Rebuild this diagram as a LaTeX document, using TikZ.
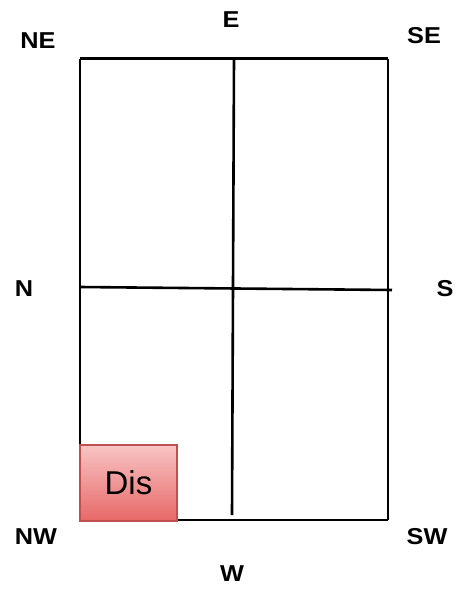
\documentclass[tikz,border=0pt]{standalone}
\usepackage{fontspec}
\setmainfont{Liberation Sans}
\usetikzlibrary{shadings}
\definecolor{distop}{RGB}{248,196,196}
\definecolor{disbot}{RGB}{232,104,104}
\definecolor{disborder}{RGB}{190,80,80}
\tikzset{
  gridline/.style={line width=2.6pt, black},
  dirlabel/.style={font=\fontsize{23}{27}\selectfont\bfseries, inner sep=0pt, xscale=1.1},
  disbox/.style={draw=disborder, line width=2pt, top color=distop, bottom color=disbot,
    minimum width=97pt, minimum height=76pt, inner sep=0pt, font=\fontsize{33}{40}\selectfont}
}
\begin{document}
\begin{tikzpicture}[x=1pt,y=-1pt]
\useasboundingbox (0,0) rectangle (473,592);
\coordinate (tl) at (80,58.5);
\coordinate (tr) at (388,58.5);
\coordinate (bl) at (80,520);
\coordinate (br) at (388,520);
\coordinate (tm) at (234,58.5);
\coordinate (bm) at (232,515);
\coordinate (ml) at (80,287);
\coordinate (mr) at (392,290);
\draw[gridline] (tl) -- (tr);
\draw[gridline] (tr) -- (br);
\draw[gridline] (bl) -- (br);
\draw[gridline] (tl) -- (bl);
\draw[gridline] (tm) -- (bm);
\draw[gridline] (ml) -- (mr);
\node[disbox] (dis) at (128.5,483) {Dis};
\node[dirlabel] (ne) at (38,41) {NE};
\node[dirlabel] (e) at (231,20) {E};
\node[dirlabel] (se) at (424,36) {SE};
\node[dirlabel] (n) at (24,289) {N};
\node[dirlabel] (s) at (445,289) {S};
\node[dirlabel] (nw) at (36,537) {NW};
\node[dirlabel] (w) at (232,574) {W};
\node[dirlabel] (sw) at (427,537) {SW};
\end{tikzpicture}
\end{document}
